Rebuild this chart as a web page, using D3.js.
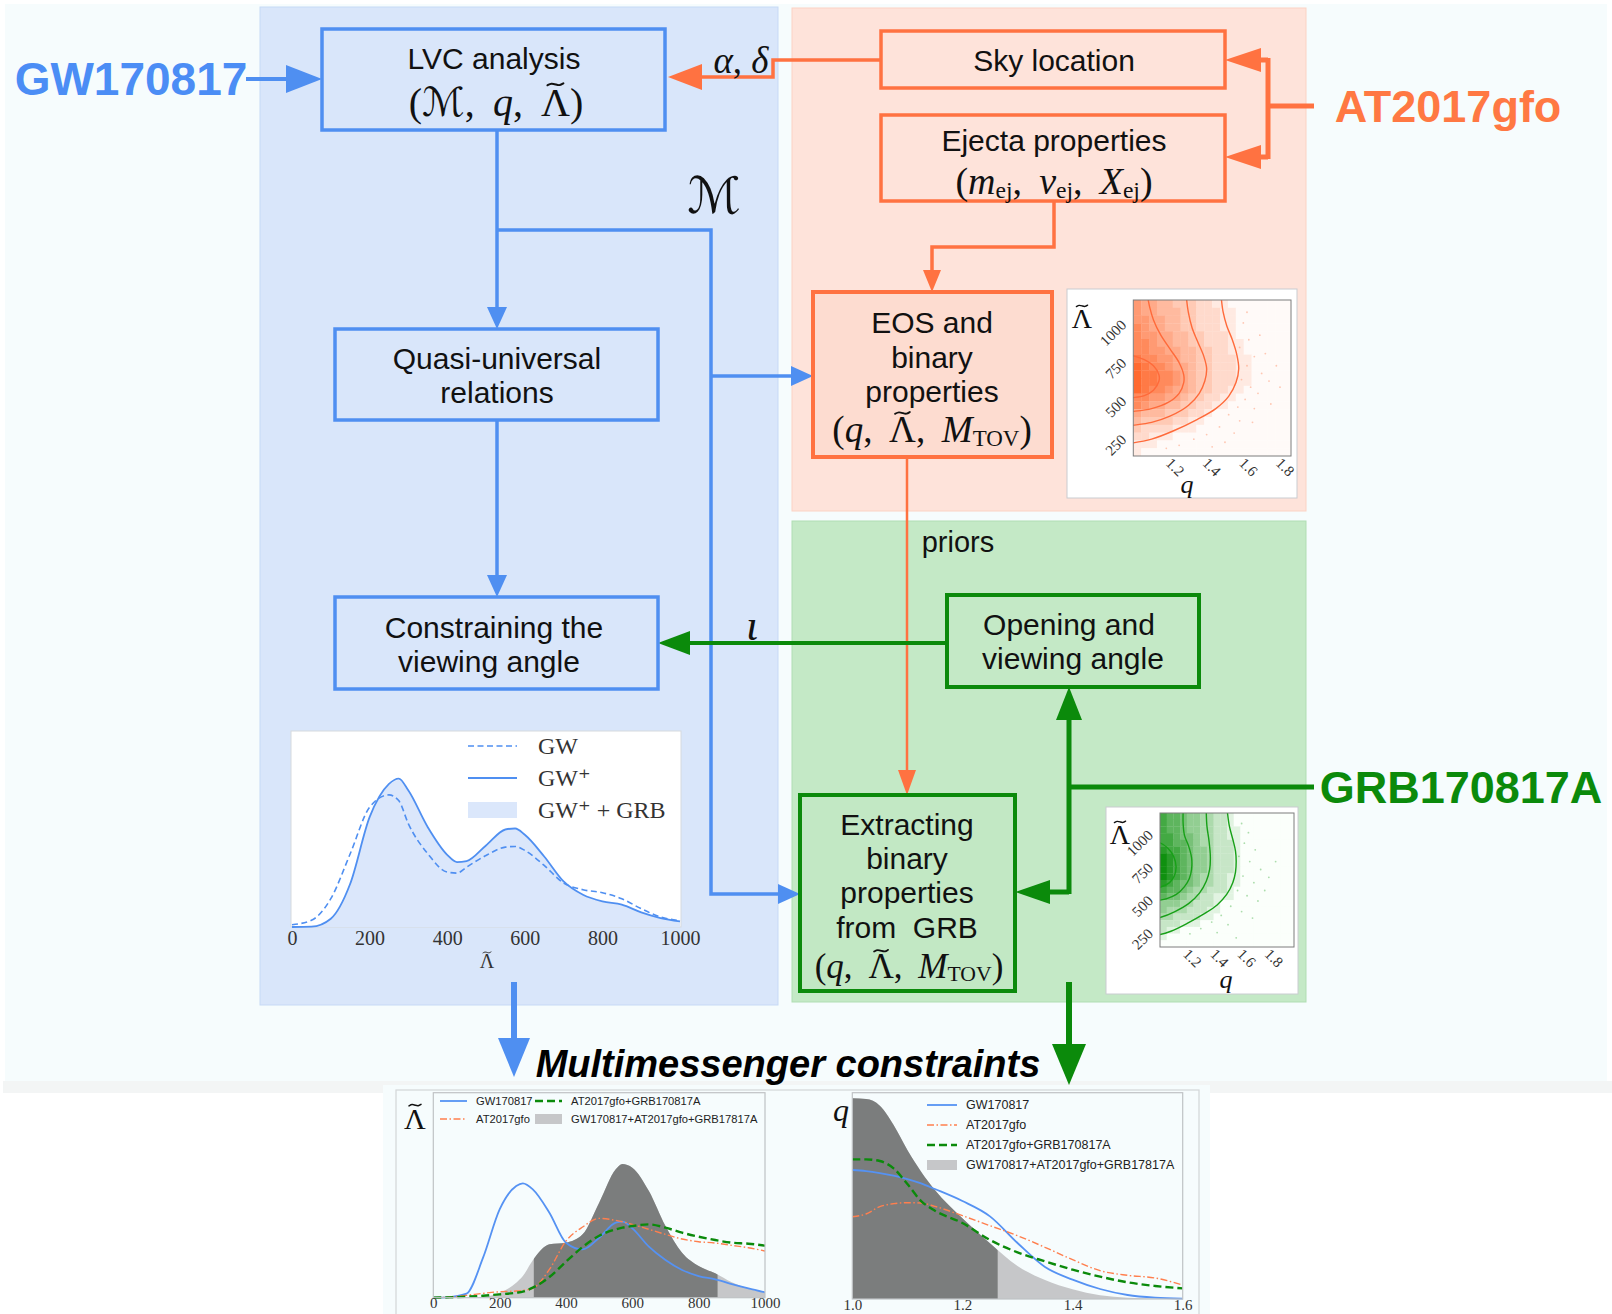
<!DOCTYPE html>
<html>
<head>
<meta charset="utf-8">
<script src="https://cdn.jsdelivr.net/npm/d3@7"></script>
<style>
  html, body { margin: 0; padding: 0; background: #ffffff; }
  svg { display: block; }
</style>
</head>
<body>
<svg id="fig" width="1612" height="1314"></svg>
<script>
// ---------------- data ----------------
// Λ̃ posterior (GW only vs GW⁺ vs GW⁺+GRB), arbitrary density units
const lambdaSmall = [0,50,100,150,200,250,275,300,350,400,425,450,500,550,575,600,650,700,750,800,850,900,950,1000];
const gwDensity    = [0.07,0.2,0.85,2.2,3.6,3.97,3.8,3.1,2.2,1.65,1.62,1.8,2.15,2.4,2.42,2.3,1.85,1.32,1.12,1.03,0.85,0.55,0.3,0.19];
const gwPlusDensity = [0,0.01,0.25,1.3,3.3,4.3,4.46,4.1,3.0,2.17,1.95,1.98,2.45,2.93,2.96,2.77,2.12,1.37,0.97,0.77,0.67,0.44,0.27,0.17];
const gwPlusGrbDensity = [0,0.01,0.24,1.28,3.27,4.27,4.42,4.06,2.97,2.15,1.93,1.96,2.42,2.9,2.93,2.75,2.1,1.36,0.96,0.76,0.66,0.44,0.27,0.17];
const lambdaTicks = [0,200,400,600,800,1000];

// Multimessenger Λ̃ constraints
const mmLambda = [0,50,100,150,200,250,270,300,350,400,450,500,550,570,600,650,700,750,800,850,900,950,1000];
const mmGW      = [0,2,12,120,265,335,343,325,255,165,145,180,225,228,208,153,113,83,65,55,41,28,16];
const mmAT      = [0,2,7,13,18,20,22,28,85,170,212,238,232,228,220,205,190,176,168,164,157,150,140];
const mmATGRB   = [0,1,3,6,10,15,18,30,62,108,152,186,205,210,215,220,210,195,183,173,165,162,156];
const mmAll     = [0,0,0.5,3,15,45,65,112,160,165,190,285,385,401,390,320,215,135,95,73,46,27,15];
const mmLambdaInterval = [303, 857];

// Multimessenger q constraints
const qGrid   = [1.0,1.025,1.05,1.075,1.1,1.125,1.15,1.2,1.25,1.3,1.35,1.4,1.45,1.5,1.55,1.6];
const qAll    = [602,600,580,522,447,382,327,242,167,99,57,29,11,4,1,0];
const qGW     = [387,384,378,370,360,347,330,294,248,168,96,58,30,12,4,1];
const qAT     = [247,255,277,286,289,288,278,250,220,190,155,118,85,71,63,42];
const qATGRB  = [419,419,414,392,345,294,265,228,177,140,113,88,67,50,39,32];
const qInterval = [1.0, 1.264];
const qTicks = [1.0,1.2,1.4,1.6];

// 2D (q, Λ̃) histograms: rows from high Λ̃ to low Λ̃, columns from low q to high q, levels 0-9
const ejectaHist = [
  "65544333221100000000",
  "65544433222110000000",
  "66554433222110000000",
  "76554433222110000000",
  "76655443322210000000",
  "77655443322211000000",
  "77665544332211000000",
  "87766544332221100000",
  "98776554332221100000",
  "98877654332221100000",
  "98877654332221100000",
  "98776554332211000000",
  "77665543322110000000",
  "76554433221100000000",
  "54443332210000000000",
  "43333221100000000000",
  "32222111000000000000",
  "22111000000000000000",
  "11100000000000000000",
  "10000000000000000000"
];
const grbHist = [
  "76654433221000000000",
  "76654433221000000000",
  "76654433221100000000",
  "77655433221100000000",
  "77665433222100000000",
  "87765443222100000000",
  "98765443222100000000",
  "98765443222100000000",
  "98765443222100000000",
  "98765433221100000000",
  "87655433221100000000",
  "76654332221000000000",
  "65543322111000000000",
  "44433222100000000000",
  "43332221100000000000",
  "33222211000000000000",
  "22211100000000000000",
  "21100000000000000000",
  "10000000000000000000",
  "00000000000000000000"
];
// credible contours, [q, Λ̃]
const ejectaContours = [
  [[0.98,770],[1.0,765],[1.06,740],[1.11,700],[1.14,640],[1.14,600],[1.11,540],[1.06,505],[1.0,492],[0.98,490]],
  [[1.08,1140],[1.09,1080],[1.11,1000],[1.15,900],[1.2,810],[1.25,720],[1.275,640],[1.275,590],[1.25,520],[1.19,460],[1.1,420],[1.0,402],[0.98,400]],
  [[1.29,1140],[1.30,1050],[1.32,950],[1.35,860],[1.385,760],[1.40,680],[1.39,600],[1.36,520],[1.3,440],[1.2,370],[1.1,330],[1.0,311],[0.98,308]],
  [[1.48,1140],[1.49,1050],[1.51,960],[1.54,870],[1.565,770],[1.575,680],[1.56,590],[1.52,500],[1.45,420],[1.35,350],[1.22,275],[1.1,220],[1.0,196],[0.98,194]]
];
const grbContours = [
  [[0.98,905],[1.0,903],[1.06,860],[1.1,800],[1.118,723],[1.105,650],[1.07,600],[1.0,565],[0.98,563]],
  [[1.17,1140],[1.17,1050],[1.18,960],[1.21,880],[1.232,790],[1.232,700],[1.215,630],[1.18,570],[1.12,510],[1.05,478],[1.0,467],[0.98,465]],
  [[1.34,1140],[1.345,1030],[1.36,920],[1.37,800],[1.365,700],[1.34,610],[1.29,520],[1.21,440],[1.11,380],[1.0,334],[0.98,330]],
  [[1.495,1140],[1.51,1030],[1.535,930],[1.555,840],[1.56,760],[1.555,680],[1.535,600],[1.49,510],[1.42,430],[1.32,360],[1.2,290],[1.08,230],[1.0,205],[0.98,203]]
];
const ejectaSamples = [[1.60,980],[1.63,870],[1.58,820],[1.66,760],[1.62,700],[1.70,650],[1.59,610],[1.64,560],[1.68,520],[1.74,600],[1.61,480],[1.57,430],[1.66,420],[1.52,380],[1.58,340],[1.47,300],[1.40,250],[1.33,220],[1.25,180],[1.18,160],[1.50,200],[1.72,780],[1.78,700],[1.69,900],[1.75,450],[1.62,1050],[1.80,560],[1.55,260],[1.43,170],[1.65,330]];
const grbSamples = [[1.60,1050],[1.65,980],[1.62,900],[1.70,850],[1.58,800],[1.66,760],[1.74,700],[1.61,650],[1.69,600],[1.80,640],[1.57,540],[1.64,500],[1.72,460],[1.52,420],[1.60,380],[1.45,350],[1.38,300],[1.50,280],[1.30,250],[1.22,210],[1.42,220],[1.85,760],[1.77,540],[1.68,330],[1.56,180]];
const mapQTicks = [1.2,1.4,1.6,1.8];
const mapLambdaTicks = [250,500,750,1000];

// ---------------- styling ----------------
const BLUE = "#4f8ff1", ORANGE = "#ff7241", GREEN = "#0b8a0b";
const SANS = "'Liberation Sans', Arial, sans-serif";
const SERIF = "'Liberation Serif', 'DejaVu Serif', serif";
const SCRIPT = "'DejaVu Serif', 'DejaVu Sans', serif";
const SP = ",\u2009 ";  // comma followed by a wider math gap

const svg = d3.select("#fig");

function rect(x, y, w, h, fill, stroke, sw) {
  return svg.append("rect").attr("x", x).attr("y", y).attr("width", w).attr("height", h)
    .attr("fill", fill || "none").attr("stroke", stroke || "none").attr("stroke-width", sw || 0);
}
function polyline(pts, color, sw) {
  return svg.append("path").attr("d", d3.line()(pts)).attr("fill", "none")
    .attr("stroke", color).attr("stroke-width", sw).attr("stroke-linejoin", "miter").attr("stroke-linecap", "butt");
}
function head(tx, ty, dir, len, hw, color) {
  let p;
  if (dir === "right") p = [[tx, ty], [tx - len, ty - hw], [tx - len, ty + hw]];
  if (dir === "left")  p = [[tx, ty], [tx + len, ty - hw], [tx + len, ty + hw]];
  if (dir === "down")  p = [[tx, ty], [tx - hw, ty - len], [tx + hw, ty - len]];
  if (dir === "up")    p = [[tx, ty], [tx - hw, ty + len], [tx + hw, ty + len]];
  svg.append("path").attr("d", d3.line()(p) + "Z").attr("fill", color);
}
function label(x, y, str, size, opts) {
  opts = opts || {};
  return svg.append("text").attr("x", x).attr("y", y).text(str)
    .attr("font-family", opts.family || SANS).attr("font-size", size)
    .attr("font-weight", opts.weight || "normal").attr("font-style", opts.style || "normal")
    .attr("fill", opts.fill || "#111").attr("text-anchor", opts.anchor || "middle")
    .attr("dominant-baseline", "central");
}
// tilde accent drawn above a glyph
const tildeShape = [[-1, 0.45], [-0.5, -0.6], [0.1, 0.15], [0.55, 0.6], [1, -0.45]];
function math(x, y, size, parts, anchor, fill) {
  fill = fill || "#111";
  const t = svg.append("text").attr("x", x).attr("y", y).attr("font-family", SERIF)
    .attr("font-size", size).attr("fill", fill).attr("text-anchor", anchor || "middle")
    .attr("dominant-baseline", "central").attr("xml:space", "preserve");
  let shift = 0, idx = 0;
  const accents = [];
  parts.forEach(p => {
    const s = t.append("tspan").text(p.t);
    if (p.i) s.attr("font-style", "italic");
    if (p.f) s.attr("font-family", p.f);
    if (p.sub) {
      s.attr("font-size", size * 0.62).attr("dy", size * 0.24 - shift);
      shift = size * 0.24;
    } else if (shift) {
      s.attr("dy", -shift); shift = 0;
    }
    if (p.tilde) accents.push(idx);
    idx += p.t.length;
  });
  accents.forEach(ci => {
    const e = t.node().getExtentOfChar(ci);
    const cx = e.x + e.width / 2, cy = e.y + size * 0.12;
    const w = size * 0.2, a = size * 0.055;
    svg.append("path")
      .attr("d", d3.line().curve(d3.curveBasis)(tildeShape.map(d => [cx + d[0] * w, cy + d[1] * a])))
      .attr("fill", "none").attr("stroke", fill).attr("stroke-width", size * 0.05).attr("stroke-linecap", "round");
  });
  return t;
}
const LT = {t: "\u039B", tilde: true};

// ---------------- page background ----------------
rect(5, 4, 1602, 1077, "#f6fcfd");
rect(3, 1081, 1609, 12, "#f3f5f5");
rect(383, 1085, 827, 229, "#f6fcfd");
rect(396, 1090, 803, 240, "none", "#d3d6d8", 1.2);

// ---------------- panels ----------------
rect(260, 7, 518, 998, "#d9e6fa", "#c6d9f6", 1);
rect(792, 8, 514, 503, "#fee3da", "#fbd2c4", 1);
rect(792, 521, 514, 481, "#c4e9c6", "#b0ddb3", 1);

// ---------------- blue connectors ----------------
polyline([[246, 79], [288, 79]], BLUE, 4);
head(322, 79, "right", 36, 14, BLUE);
polyline([[497, 130], [497, 308]], BLUE, 3.5);
head(497, 329, "down", 22, 10, BLUE);
polyline([[497, 230], [711, 230], [711, 894], [780, 894]], BLUE, 3.5);
head(800, 894, "right", 22, 10, BLUE);
polyline([[711, 376], [793, 376]], BLUE, 3.5);
head(813, 376, "right", 22, 10, BLUE);
polyline([[497, 420], [497, 576]], BLUE, 3.5);
head(497, 597, "down", 22, 10, BLUE);
polyline([[514, 982], [514, 1040]], BLUE, 6);
head(514, 1077, "down", 39, 16, BLUE);

// ---------------- orange connectors ----------------
polyline([[881, 60], [773, 60], [773, 77], [700, 77]], ORANGE, 3.5);
head(668, 77, "left", 34, 13, ORANGE);
polyline([[1314, 106], [1268, 106]], ORANGE, 5);
polyline([[1268, 58], [1268, 159]], ORANGE, 5);
polyline([[1268, 60], [1258, 60]], ORANGE, 5);
polyline([[1268, 157], [1258, 157]], ORANGE, 5);
head(1225, 60, "left", 36, 12, ORANGE);
head(1225, 157, "left", 36, 12, ORANGE);
polyline([[1054, 201], [1054, 247], [932, 247], [932, 272]], ORANGE, 3.5);
head(932, 292, "down", 22, 9, ORANGE);
polyline([[907, 457], [907, 772]], ORANGE, 2.5);
head(907, 795, "down", 25, 9, ORANGE);

// ---------------- green connectors ----------------
polyline([[947, 643], [688, 643]], GREEN, 4);
head(658, 643, "left", 32, 12, GREEN);
polyline([[1314, 787], [1069, 787]], GREEN, 5);
polyline([[1069, 718], [1069, 894]], GREEN, 5);
head(1069, 687, "up", 33, 13, GREEN);
polyline([[1069, 892], [1048, 892]], GREEN, 5);
head(1015, 892, "left", 35, 12, GREEN);
polyline([[1069, 982], [1069, 1046]], GREEN, 6);
head(1069, 1085, "down", 41, 17, GREEN);

// ---------------- boxes ----------------
rect(322, 29, 343, 101, "none", BLUE, 3.5);
rect(335, 329, 323, 91, "none", BLUE, 3.5);
rect(335, 597, 323, 92, "none", BLUE, 3.5);
rect(881, 31, 344, 57, "none", ORANGE, 3.5);
rect(881, 115, 344, 86, "none", ORANGE, 3.5);
rect(813, 292, 239, 165, "#fddcd0", ORANGE, 4);
rect(947, 595, 252, 92, "none", GREEN, 4);
rect(800, 795, 215, 196, "#c2e8c4", GREEN, 4);

// ---------------- box text ----------------
label(494, 58, "LVC analysis", 30);
math(496, 102, 40, [{t: "("}, {t: "\u2133", f: SCRIPT}, {t: SP}, {t: "q", i: true}, {t: SP}, LT, {t: ")"}]);
label(1054, 60, "Sky location", 30);
label(1054, 140, "Ejecta properties", 30);
math(1054, 181, 38, [{t: "("}, {t: "m", i: true}, {t: "ej", sub: true}, {t: SP}, {t: "v", i: true}, {t: "ej", sub: true}, {t: SP}, {t: "X", i: true}, {t: "ej", sub: true}, {t: ")"}]);
label(932, 322, "EOS and", 30);
label(932, 357, "binary", 30);
label(932, 391, "properties", 30);
math(932, 429, 37, [{t: "("}, {t: "q", i: true}, {t: SP}, LT, {t: SP}, {t: "M", i: true}, {t: "TOV", sub: true}, {t: ")"}]);
label(497, 358, "Quasi-universal", 30);
label(497, 392, "relations", 30);
label(494, 627, "Constraining the", 30);
label(489, 661, "viewing angle", 30);
label(1069, 624, "Opening and", 30);
label(1073, 658, "viewing angle", 30);
label(907, 824, "Extracting", 30);
label(907, 858, "binary", 30);
label(907, 892, "properties", 30);
label(907, 927, "from\u00A0\u00A0GRB", 30);
math(909, 966, 35, [{t: "("}, {t: "q", i: true}, {t: SP}, LT, {t: SP}, {t: "M", i: true}, {t: "TOV", sub: true}, {t: ")"}]);

label(958, 542, "priors", 29);
math(741, 60, 37, [{t: "\u03B1", i: true}, {t: ", "}, {t: "\u03B4", i: true}]);
math(752, 625, 44, [{t: "\u03B9", i: true}]);
math(714, 196, 50, [{t: "\u2133", f: SCRIPT}]);

// ---------------- messenger labels ----------------
label(131, 79, "GW170817", 46, {weight: "bold", fill: "#4b8df5"});
label(1448, 106, "AT2017gfo", 45, {weight: "bold", fill: "#ff7843"});
label(1461, 787, "GRB170817A", 45, {weight: "bold", fill: GREEN});
label(788, 1064, "Multimessenger constraints", 38, {weight: "bold", style: "italic", fill: "#000"});

// ---------------- Λ̃ posterior inset ----------------
(function () {
  rect(291, 731, 390, 196, "#ffffff", "#d5d9de", 1);
  const x = d3.scaleLinear().domain([0, 1000]).range([292, 680]);
  const y = d3.scaleLinear().domain([0, 5.92]).range([927, 730]);
  const area = d3.area().x((d, i) => x(lambdaSmall[i])).y0(y(0)).y1(d => y(d)).curve(d3.curveMonotoneX);
  const line = d3.line().x((d, i) => x(lambdaSmall[i])).y(d => y(d)).curve(d3.curveMonotoneX);
  svg.append("path").attr("d", area(gwPlusGrbDensity)).attr("fill", "#dbe7fb");
  svg.append("path").attr("d", line(gwDensity)).attr("fill", "none").attr("stroke", BLUE)
    .attr("stroke-width", 1.6).attr("stroke-dasharray", "6,3.5");
  svg.append("path").attr("d", line(gwPlusDensity)).attr("fill", "none").attr("stroke", BLUE).attr("stroke-width", 1.8);
  const ax = svg.append("g").attr("transform", "translate(0,927)")
    .call(d3.axisBottom(x).tickValues(lambdaTicks).tickSize(0).tickPadding(4).tickFormat(d3.format("d")));
  ax.select(".domain").remove();
  ax.selectAll("text").attr("font-family", SERIF).attr("font-size", 20).attr("fill", "#333");
  math(487, 961, 20, [LT], "middle", "#333");
  // legend
  svg.append("line").attr("x1", 468).attr("x2", 517).attr("y1", 746).attr("y2", 746)
    .attr("stroke", BLUE).attr("stroke-width", 1.6).attr("stroke-dasharray", "6,3.5");
  svg.append("line").attr("x1", 468).attr("x2", 517).attr("y1", 778).attr("y2", 778)
    .attr("stroke", BLUE).attr("stroke-width", 1.8);
  rect(468, 802, 49, 16, "#dbe7fb");
  math(538, 746, 24, [{t: "GW"}], "start", "#333");
  math(538, 778, 24, [{t: "GW\u207A"}], "start", "#333");
  math(538, 810, 24, [{t: "GW\u207A + GRB"}], "start", "#333");
})();

// ---------------- (q, Λ̃) maps ----------------
function drawMap(cfg) {
  rect(cfg.frame[0], cfg.frame[1], cfg.frame[2], cfg.frame[3], "#ffffff", "#c9ccd0", 1);
  const [x0, y0, x1, y1] = cfg.axes;
  const xq = d3.scaleLinear().domain(cfg.qDomain).range([x0, x1]);
  const yl = d3.scaleLinear().domain([110, 1130]).range([y1, y0]);
  const ncol = cfg.hist[0].length, nrow = cfg.hist.length;
  const colBand = d3.scaleBand().domain(d3.range(ncol)).range([x0, x1]);
  const rowBand = d3.scaleBand().domain(d3.range(nrow)).range([y0, y1]);
  const color = d3.scaleLinear().domain([0, 9]).range([cfg.low, cfg.high]).interpolate(d3.interpolateRgb);
  const clipId = cfg.id + "-clip";
  svg.append("clipPath").attr("id", clipId).append("rect")
    .attr("x", x0).attr("y", y0).attr("width", x1 - x0).attr("height", y1 - y0);
  const g = svg.append("g").attr("clip-path", `url(#${clipId})`);
  const cells = [];
  cfg.hist.forEach((row, r) => row.split("").forEach((v, c) => cells.push({r, c, v: +v})));
  g.selectAll("rect.cell").data(cells).join("rect").attr("class", "cell")
    .attr("x", d => colBand(d.c)).attr("y", d => rowBand(d.r))
    .attr("width", colBand.bandwidth() + 0.3).attr("height", rowBand.bandwidth() + 0.3)
    .attr("fill", d => color(d.v));
  g.selectAll("circle.sample").data(cfg.samples).join("circle").attr("class", "sample")
    .attr("cx", d => xq(d[0])).attr("cy", d => yl(d[1])).attr("r", 0.9)
    .attr("fill", cfg.dot).attr("opacity", 0.45);
  const cl = d3.line().x(d => xq(d[0])).y(d => yl(d[1])).curve(d3.curveCatmullRom);
  g.selectAll("path.contour").data(cfg.contours).join("path").attr("class", "contour")
    .attr("d", cl).attr("fill", "none").attr("stroke", cfg.line).attr("stroke-width", 1.4);
  rect(x0, y0, x1 - x0, y1 - y0, "none", "#7d7d7d", 1);
  cfg.qTicks.forEach(v => {
    svg.append("text").attr("transform", `translate(${xq(v) - 5},${y1 + 8}) rotate(45)`)
      .text(d3.format(".1f")(v)).attr("font-family", SERIF).attr("font-size", 15).attr("fill", "#333");
  });
  cfg.lTicks.forEach(v => {
    svg.append("text").attr("transform", `translate(${x0 - 6},${yl(v) + 6}) rotate(-45)`)
      .text(v).attr("text-anchor", "end").attr("font-family", SERIF).attr("font-size", 15).attr("fill", "#333");
  });
  math(cfg.lambdaLabel[0], cfg.lambdaLabel[1], 28, [LT]);
  math(cfg.qLabel[0], cfg.qLabel[1], 26, [{t: "q", i: true}]);
}
drawMap({
  id: "ejecta", frame: [1067, 289, 230, 209], axes: [1133.3, 300, 1291, 456], qDomain: [1.0, 1.86],
  hist: ejectaHist, contours: ejectaContours, samples: ejectaSamples,
  low: "#fffaf8", high: "#ff6a30", line: "#ff6a3a", dot: "#ff8a60",
  qTicks: mapQTicks, lTicks: mapLambdaTicks, lambdaLabel: [1082, 318], qLabel: [1187, 484]
});
drawMap({
  id: "grb", frame: [1106, 807, 192, 187], axes: [1160, 813, 1294, 947], qDomain: [1.0, 1.985],
  hist: grbHist, contours: grbContours, samples: grbSamples,
  low: "#fbfffb", high: "#0f900f", line: "#17a017", dot: "#4cb44c",
  qTicks: mapQTicks, lTicks: mapLambdaTicks, lambdaLabel: [1120, 834], qLabel: [1226, 979]
});

// ---------------- multimessenger panels ----------------
function legendRows(rows, x, sizeTxt, lineLen) {
  rows.forEach(e => {
    if (e.k === "line") {
      svg.append("line").attr("x1", e.x ?? x).attr("x2", (e.x ?? x) + lineLen).attr("y1", e.y).attr("y2", e.y)
        .attr("stroke", e.c).attr("stroke-width", e.w).attr("stroke-dasharray", e.d);
    } else {
      rect(e.x ?? x, e.y - 5, lineLen, 10, e.c);
    }
    label((e.x ?? x) + lineLen + 9, e.y, e.t, sizeTxt, {anchor: "start", fill: "#222"});
  });
}

(function () {
  const x = d3.scaleLinear().domain([0, 1000]).range([433.3, 765]);
  const y = d3.scaleLinear().domain([0, 615]).range([1297.7, 1092.7]);
  const area = d3.area().x((d, i) => x(mmLambda[i])).y0(y(0)).y1(d => y(d)).curve(d3.curveMonotoneX);
  const line = d3.line().x((d, i) => x(mmLambda[i])).y(d => y(d)).curve(d3.curveMonotoneX);
  svg.append("clipPath").attr("id", "mm-lambda-ci").append("rect")
    .attr("x", x(mmLambdaInterval[0])).attr("y", 1090)
    .attr("width", x(mmLambdaInterval[1]) - x(mmLambdaInterval[0])).attr("height", 210);
  svg.append("path").attr("d", area(mmAll)).attr("fill", "#c6c7c9");
  svg.append("path").attr("d", area(mmAll)).attr("fill", "#7b7d7d").attr("clip-path", "url(#mm-lambda-ci)");
  svg.append("path").attr("d", line(mmGW)).attr("fill", "none").attr("stroke", "#5592f3").attr("stroke-width", 1.8);
  svg.append("path").attr("d", line(mmAT)).attr("fill", "none").attr("stroke", "#ff7f4e")
    .attr("stroke-width", 1.4).attr("stroke-dasharray", "7,2.5,1.5,2.5");
  svg.append("path").attr("d", line(mmATGRB)).attr("fill", "none").attr("stroke", GREEN)
    .attr("stroke-width", 2.4).attr("stroke-dasharray", "8,4");
  rect(433.3, 1092.7, 331.7, 205, "none", "#bfc2c5", 1.2);
  const ax = svg.append("g").attr("transform", "translate(0,1297.7)")
    .call(d3.axisBottom(x).tickValues(lambdaTicks).tickSize(0).tickPadding(0).tickFormat(d3.format("d")));
  ax.select(".domain").remove();
  ax.selectAll("text").attr("font-family", SERIF).attr("font-size", 15).attr("fill", "#333");
  math(415, 1118, 30, [LT]);
  legendRows([
    {x: 440, y: 1101, k: "line", c: "#5592f3", w: 1.8, d: null, t: "GW170817"},
    {x: 440, y: 1119, k: "line", c: "#ff7f4e", w: 1.4, d: "7,2.5,1.5,2.5", t: "AT2017gfo"},
    {x: 535, y: 1101, k: "line", c: GREEN, w: 2.4, d: "8,4", t: "AT2017gfo+GRB170817A"},
    {x: 535, y: 1119, k: "patch", c: "#c6c7c9", t: "GW170817+AT2017gfo+GRB17817A"}
  ], 440, 11.2, 27);
})();

(function () {
  const x = d3.scaleLinear().domain([1.0, 1.6]).range([852.3, 1182.7]);
  const y = d3.scaleLinear().domain([0, 619]).range([1299, 1092.7]);
  const area = d3.area().x((d, i) => x(qGrid[i])).y0(y(0)).y1(d => y(d)).curve(d3.curveMonotoneX);
  const line = d3.line().x((d, i) => x(qGrid[i])).y(d => y(d)).curve(d3.curveMonotoneX);
  svg.append("clipPath").attr("id", "mm-q-ci").append("rect")
    .attr("x", x(qInterval[0])).attr("y", 1090)
    .attr("width", x(qInterval[1]) - x(qInterval[0])).attr("height", 212);
  svg.append("path").attr("d", area(qAll)).attr("fill", "#c6c7c9");
  svg.append("path").attr("d", area(qAll)).attr("fill", "#7b7d7d").attr("clip-path", "url(#mm-q-ci)");
  svg.append("path").attr("d", line(qGW)).attr("fill", "none").attr("stroke", "#5592f3").attr("stroke-width", 1.8);
  svg.append("path").attr("d", line(qAT)).attr("fill", "none").attr("stroke", "#ff7f4e")
    .attr("stroke-width", 1.4).attr("stroke-dasharray", "7,2.5,1.5,2.5");
  svg.append("path").attr("d", line(qATGRB)).attr("fill", "none").attr("stroke", GREEN)
    .attr("stroke-width", 2.4).attr("stroke-dasharray", "8,4");
  rect(852.3, 1092.7, 330.4, 206.3, "none", "#bfc2c5", 1.2);
  const ax = svg.append("g").attr("transform", "translate(0,1299)")
    .call(d3.axisBottom(x).tickValues(qTicks).tickSize(0).tickPadding(0).tickFormat(d3.format(".1f")));
  ax.select(".domain").remove();
  ax.selectAll("text").attr("font-family", SERIF).attr("font-size", 15).attr("fill", "#333");
  math(841, 1110, 32, [{t: "q", i: true}]);
  legendRows([
    {y: 1105, k: "line", c: "#5592f3", w: 1.8, d: null, t: "GW170817"},
    {y: 1125, k: "line", c: "#ff7f4e", w: 1.4, d: "7,2.5,1.5,2.5", t: "AT2017gfo"},
    {y: 1145, k: "line", c: GREEN, w: 2.4, d: "8,4", t: "AT2017gfo+GRB170817A"},
    {y: 1165, k: "patch", c: "#c6c7c9", t: "GW170817+AT2017gfo+GRB17817A"}
  ], 927, 12.5, 30);
})();
</script>
</body>
</html>
